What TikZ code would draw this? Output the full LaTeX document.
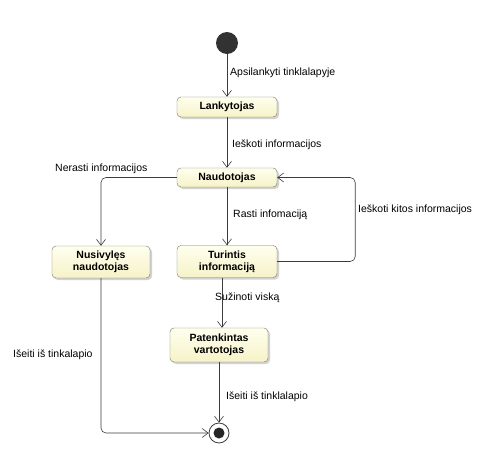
\documentclass[tikz,border=0pt]{standalone}
\usepackage{fontspec}
\setmainfont{Liberation Sans}
\usetikzlibrary{arrows.meta,shadows}
\definecolor{boxtop}{RGB}{255,255,238}
\definecolor{boxbot}{RGB}{246,242,200}
\definecolor{boxline}{RGB}{120,120,100}
\definecolor{edgecol}{RGB}{60,60,60}
\tikzset{
  state/.style={draw=boxline, rounded corners=4pt, top color=boxtop, bottom color=boxbot,
    font=\fontsize{10.5}{12}\selectfont\bfseries, align=center, inner sep=0pt,
    drop shadow={shadow xshift=2pt, shadow yshift=-2pt, opacity=0.35, fill=gray}},
  edge/.style={draw=edgecol, line width=0.6pt, rounded corners=5pt,
    -{Straight Barb[length=6pt,width=9pt,line width=0.6pt]}},
  lbl/.style={font=\fontsize{10.5}{12}\selectfont, anchor=west, inner sep=0pt, text=black},
}
\begin{document}
\begin{tikzpicture}[x=1pt,y=-1pt]
\useasboundingbox (0,0) rectangle (504,464);
\fill[white] (0,0) rectangle (504,464);

\node[circle, fill={rgb,255:red,50;green,50;blue,50}, minimum size=22pt, inner sep=0pt] (start) at (227,43) {};
\node[state, minimum width=100pt, minimum height=20pt] (lank) at (227,107) {Lankytojas};
\node[state, minimum width=100pt, minimum height=19pt] (naud) at (227,177.5) {Naudotojas};
\node[state, minimum width=98pt, minimum height=32pt] (nusi) at (101,262) {Nusivylęs\\naudotojas};
\node[state, minimum width=100pt, minimum height=32pt] (turi) at (227,261.5) {Turintis\\informaciją};
\node[state, minimum width=98pt, minimum height=34pt] (pate) at (219,345) {Patenkintas\\vartotojas};
\node[circle, draw=edgecol, line width=0.8pt, fill=white, minimum size=20pt, inner sep=0pt] (end) at (219,433) {};
\fill[black!85] (end.center) circle (5.5pt);

\draw[edge] (start) -- (lank);
\draw[edge] (lank) -- (naud);
\draw[edge] (naud.west) -| (nusi.north);
\draw[edge] (naud) -- (turi);
\draw[edge] (turi.east) -- ++(78,0) coordinate (loopc) |- (naud.east);
\draw[edge] ([xshift=-5pt]turi.south) -- ([xshift=3pt]pate.north);
\draw[edge] (pate) -- (end);
\draw[edge] (nusi.south) |- (end.west);

\node[lbl] (l1) at (230,73) {Apsilankyti tinklalapyje};
\node[lbl] (l2) at (232,145) {Ieškoti informacijos};
\node[lbl] (l3) at (55,169) {Nerasti informacijos};
\node[lbl] (l4) at (233,215) {Rasti infomaciją};
\node[lbl] (l5) at (358,210) {Ieškoti kitos informacijos};
\node[lbl] (l6) at (215,298) {Sužinoti viską};
\node[lbl] (l7) at (226,397) {Išeiti iš tinklalapio};
\node[lbl] (l8) at (13,355) {Išeiti iš tinkalapio};
\end{tikzpicture}
\end{document}
